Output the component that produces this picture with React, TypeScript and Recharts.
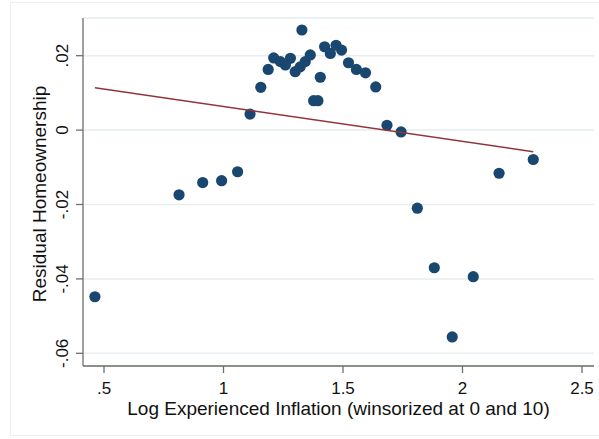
import React from "react";
import { ScatterChart, Scatter, XAxis, YAxis, CartesianGrid } from "recharts";

const xValues = [0.462, 0.814, 0.913, 0.992, 1.059, 1.111, 1.156, 1.187, 1.21, 1.238, 1.259, 1.28, 1.3, 1.321, 1.328, 1.342, 1.363, 1.377, 1.395, 1.405, 1.423, 1.447, 1.471, 1.494, 1.523, 1.556, 1.594, 1.637, 1.684, 1.743, 1.811, 1.882, 1.957, 2.045, 2.153, 2.296];
const yValues = [-0.0448, -0.0174, -0.0141, -0.0136, -0.0112, 0.0043, 0.0115, 0.0163, 0.0194, 0.0184, 0.0175, 0.0193, 0.0157, 0.017, 0.0269, 0.0184, 0.0202, 0.0079, 0.0079, 0.0142, 0.0224, 0.0206, 0.0228, 0.0215, 0.0181, 0.0163, 0.0154, 0.0116, 0.0013, -0.0005, -0.021, -0.037, -0.0556, -0.0394, -0.0116, -0.0079];

const fitX = [0.462, 2.296];
const fitY = [0.0114, -0.0058];

const xTicks = [0.5, 1, 1.5, 2, 2.5];
const xTickLabels = [".5", "1", "1.5", "2", "2.5"];
const yTicks = [-0.06, -0.04, -0.02, 0, 0.02];
const yTickLabels = ["-.06", "-.04", "-.02", "0", ".02"];

const xTitle = "Log Experienced Inflation (winsorized at 0 and 10)";
const yTitle = "Residual Homeownership";

const points = xValues.map((x, i) => ({ x, y: yValues[i] }));
const fitPoints = fitX.map((x, i) => ({ x, y: fitY[i] }));

const FONT = "'Liberation Sans', Arial, Helvetica, sans-serif";
const NAVY = "#1a476f";
const MAROON = "#90353b";
const AXIS = "#6e6e6e";

const XTick = (props: any) => {
  const { x, y, payload } = props;
  const idx = xTicks.indexOf(payload.value);
  return (
    <text x={x} y={y + 19} textAnchor="middle" fontSize={17} fontFamily={FONT} fill="#111">
      {idx >= 0 ? xTickLabels[idx] : String(payload.value)}
    </text>
  );
};

const YTick = (props: any) => {
  const { x, y, payload } = props;
  const idx = yTicks.findIndex((t) => Math.abs(t - payload.value) < 1e-9);
  const bx = x - 6;
  return (
    <text
      x={bx}
      y={y}
      transform={`rotate(-90, ${bx}, ${y})`}
      textAnchor="middle"
      fontSize={17}
      fontFamily={FONT}
      fill="#111"
    >
      {idx >= 0 ? yTickLabels[idx] : String(payload.value)}
    </text>
  );
};

const Dot = (props: any) => {
  const { cx, cy } = props;
  if (cx == null || cy == null) return <g />;
  return <circle cx={cx} cy={cy} r={5.6} fill={NAVY} />;
};

const NoShape = () => <g />;

export default function App() {
  return (
    <div style={{ position: "absolute", left: 0, top: 0, width: 599, height: 439, background: "#fff" }}>
      <div
        style={{
          position: "absolute",
          left: 10,
          top: 2,
          width: 600,
          height: 434,
          borderTop: "1.5px solid #e9eff2",
          borderLeft: "1.5px solid #e9eff2",
          borderBottom: "1.5px solid #e9eff2",
          boxSizing: "border-box",
        }}
      />
      <div style={{ position: "absolute", left: 0, top: 0 }}>
        <ScatterChart width={599} height={439} margin={{ top: 18, right: 5, bottom: 0, left: 0 }}>
          <CartesianGrid vertical={false} horizontal={true} stroke="#e6eef1" strokeWidth={1.5} />
          <XAxis
            dataKey="x"
            type="number"
            domain={[0.4121, 2.5502]}
            allowDataOverflow
            ticks={xTicks}
            interval={0}
            height={73}
            tickSize={7}
            tickMargin={2}
            tick={<XTick />}
            axisLine={{ stroke: AXIS, strokeWidth: 1.3 }}
            tickLine={{ stroke: AXIS, strokeWidth: 1.3 }}
          />
          <YAxis
            dataKey="y"
            type="number"
            domain={[-0.06341, 0.03013]}
            allowDataOverflow
            ticks={yTicks}
            interval={0}
            width={83}
            tickSize={7}
            tickMargin={2}
            tick={<YTick />}
            axisLine={{ stroke: AXIS, strokeWidth: 1.3 }}
            tickLine={{ stroke: AXIS, strokeWidth: 1.3 }}
          />
          <Scatter data={points} shape={<Dot />} isAnimationActive={false} />
          <Scatter
            data={fitPoints}
            shape={<NoShape />}
            line={{ stroke: MAROON, strokeWidth: 1.5 }}
            isAnimationActive={false}
          />
        </ScatterChart>
      </div>
      <svg
        width={599}
        height={439}
        style={{ position: "absolute", left: 0, top: 0, pointerEvents: "none" }}
      >
        <text x={338.5} y={415} textAnchor="middle" fontSize={19} fontFamily={FONT} fill="#111">
          {xTitle}
        </text>
        <text
          x={45.5}
          y={194}
          transform="rotate(-90, 45.5, 194)"
          textAnchor="middle"
          fontSize={19}
          fontFamily={FONT}
          fill="#111"
        >
          {yTitle}
        </text>
      </svg>
    </div>
  );
}
